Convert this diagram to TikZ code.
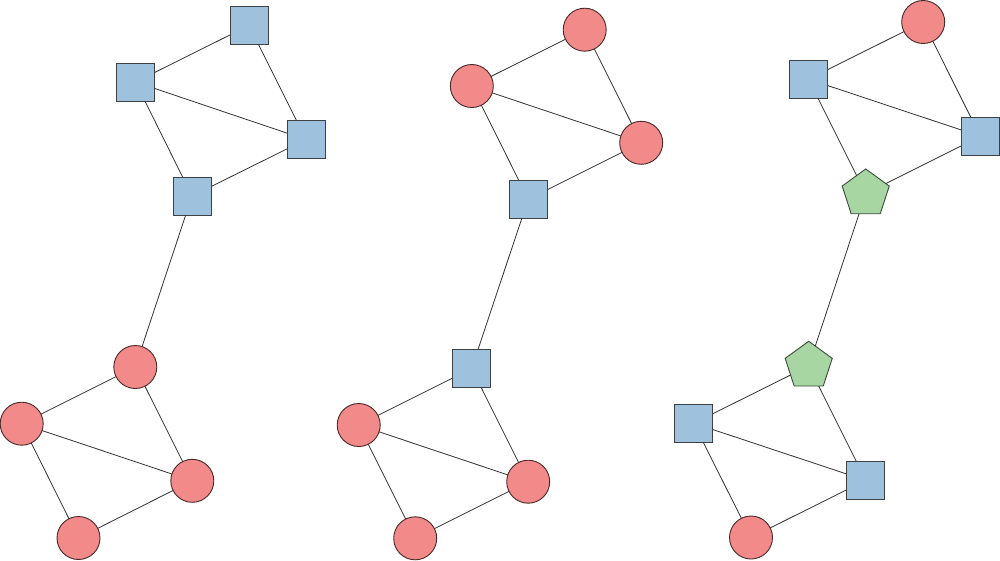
\documentclass[tikz,border=0pt]{standalone}
\usepackage{tikz}
\usetikzlibrary{shapes.geometric}
\usepackage{xcolor}
\definecolor{NodeBlue}{RGB}{158,193,222}
\definecolor{NodeRed}{RGB}{242,138,138}
\definecolor{NodeGreen}{RGB}{168,214,162}
\definecolor{EdgeGray}{RGB}{51,51,51}

\begin{document}
\begin{tikzpicture}[x=1pt, y=-1pt,
  sqnode/.style={draw=EdgeGray!90!NodeBlue, fill=NodeBlue, line width=0.9pt, rectangle, minimum size=38pt, inner sep=0pt, outer sep=0pt},
  rdnode/.style={draw=NodeRed!30!black, fill=NodeRed, line width=0.9pt, circle, minimum size=43pt, inner sep=0pt, outer sep=0pt},
  pnnode/.style={draw=NodeGreen!35!black, fill=NodeGreen, line width=0.9pt, regular polygon, regular polygon sides=5, minimum size=49.5pt, inner sep=0pt, outer sep=0pt},
  edge/.style={EdgeGray, line width=0.8pt}]
\useasboundingbox (0,0) rectangle (1000,560);
\fill[white] (0,0) rectangle (1000,560);
% Left graph
\node[sqnode] (a1) at (249,25.5) {};
\node[sqnode] (b1) at (135.5,82) {};
\node[sqnode] (c1) at (306,139.5) {};
\node[sqnode] (d1) at (192,196) {};
\node[rdnode] (e1) at (135.3,367) {};
\node[rdnode] (f1) at (21.7,423.7) {};
\node[rdnode] (g1) at (192.3,480.8) {};
\node[rdnode] (h1) at (78.5,538) {};
% Middle graph
\node[rdnode] (a2) at (584.7,29.7) {};
\node[rdnode] (b2) at (471.8,86) {};
\node[rdnode] (c2) at (641.2,142.8) {};
\node[sqnode] (d2) at (528.2,199.2) {};
\node[sqnode] (e2) at (471.7,368.5) {};
\node[rdnode] (f2) at (358.7,425) {};
\node[rdnode] (g2) at (528.2,481.7) {};
\node[rdnode] (h2) at (415.2,538.3) {};
% Right graph
\node[rdnode] (a3) at (923.2,22) {};
\node[sqnode] (b3) at (808.5,79.2) {};
\node[sqnode] (c3) at (980.3,136.3) {};
\node[pnnode] (d3) at (865.7,193.7) {};
\node[pnnode] (e3) at (808.7,366) {};
\node[sqnode] (f3) at (693.7,423.2) {};
\node[sqnode] (g3) at (865.7,480.3) {};
\node[rdnode] (h3) at (751,537.5) {};
% Edges
\foreach \i in {1,2,3}{
  \draw[edge] (a\i) -- (b\i);
  \draw[edge] (a\i) -- (c\i);
  \draw[edge] (b\i) -- (c\i);
  \draw[edge] (b\i) -- (d\i);
  \draw[edge] (c\i) -- (d\i);
  \draw[edge] (d\i) -- (e\i);
  \draw[edge] (e\i) -- (f\i);
  \draw[edge] (e\i) -- (g\i);
  \draw[edge] (f\i) -- (g\i);
  \draw[edge] (f\i) -- (h\i);
  \draw[edge] (g\i) -- (h\i);
}
\end{tikzpicture}
\end{document}
